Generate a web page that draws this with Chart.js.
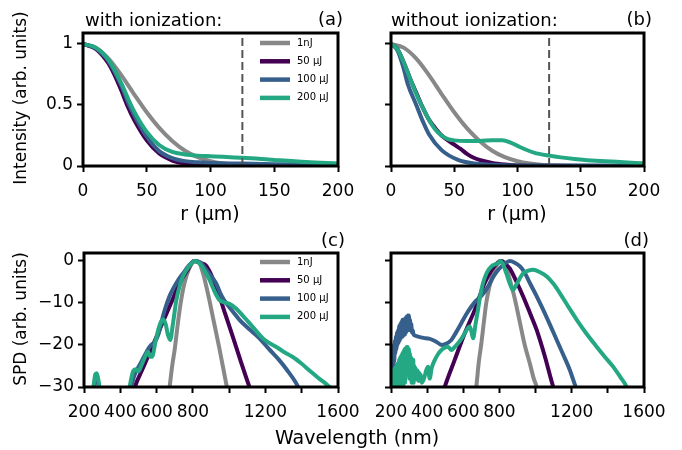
<!DOCTYPE html>
<html>
<head>
<meta charset="utf-8">
<script src="https://cdn.jsdelivr.net/npm/chart.js@4.4.0/dist/chart.umd.min.js"></script>
<style>
  body { margin: 0; background: #fff; }
  #wrap { position: relative; width: 682px; height: 450px; }
  canvas { position: absolute; left: 0; top: 0; }
</style>
</head>
<body>
<div id="wrap">
  <canvas id="pa" width="682" height="450"></canvas>
  <canvas id="pb" width="682" height="450"></canvas>
  <canvas id="pc" width="682" height="450"></canvas>
  <canvas id="pd" width="682" height="450"></canvas>
</div>
<script>
// series names + colours
const labels = ["1nJ", "50 µJ", "100 µJ", "200 µJ"];
const colors = ["#888888", "#440154", "#365f8c", "#23a883"];

// tick values
const rTicks = [0, 50, 100, 150, 200];
const iTicks = [0, 0.5, 1];
const wlTicks = [200, 400, 600, 800, 1000, 1200, 1400, 1600];
const wlShown = [200, 400, 600, 800, 1200, 1600];
const spdTicks = [0, -10, -20, -30];
const apertureR = 125;

// (a) with ionization: [r (µm), intensity]
const aGray = [[0,1],[10,0.97],[20,0.88],[30,0.745],[40,0.59],[50,0.44],[60,0.31],[70,0.205],[80,0.125],[90,0.072],[100,0.039],[110,0.02],[120,0.009],[130,0.004],[145,0.001],[170,0],[200,0]];
const aP50 = [[0,1],[10,0.96],[20,0.84],[25,0.74],[30,0.62],[35,0.49],[40,0.38],[50,0.21],[60,0.1],[70,0.045],[80,0.02],[90,0.008],[100,0.003],[120,0.001],[200,0]];
const aB100 = [[0,1],[10,0.965],[20,0.86],[30,0.66],[35,0.53],[40,0.42],[50,0.24],[60,0.12],[70,0.065],[80,0.04],[90,0.03],[100,0.025],[125,0.02],[150,0.015],[200,0.01]];
const aG200 = [[0,1],[10,0.97],[20,0.87],[30,0.68],[35,0.56],[40,0.45],[50,0.28],[60,0.17],[70,0.115],[80,0.095],[90,0.085],[100,0.08],[110,0.075],[125,0.068],[140,0.058],[150,0.05],[175,0.032],[200,0.02]];

// (b) without ionization
const bGray = aGray;
const bP50 = [[0,1],[5,0.96],[10,0.85],[15,0.72],[20,0.6],[25,0.48],[30,0.38],[35,0.31],[40,0.25],[45,0.21],[50,0.175],[55,0.14],[60,0.1],[65,0.07],[70,0.05],[80,0.025],[90,0.012],[100,0.005],[120,0.002],[200,0]];
const bB100 = [[0,1],[5,0.95],[10,0.8],[13,0.68],[20,0.5],[25,0.37],[30,0.26],[40,0.13],[53,0.05],[66,0.02],[80,0.01],[100,0.005],[200,0.003]];
const bG200 = [[0,1],[5,0.96],[10,0.85],[15,0.72],[20,0.59],[25,0.48],[30,0.38],[35,0.3],[40,0.25],[45,0.22],[50,0.21],[60,0.205],[70,0.205],[80,0.212],[88,0.212],[95,0.19],[100,0.165],[113,0.11],[125,0.085],[145,0.058],[170,0.038],[200,0.022]];

// (c) spectra with ionization: [wavelength (nm), SPD]
const cGray = [[655,-36],[672,-30],[686,-25],[700,-21],[714,-16],[727,-11.7],[745,-7],[764,-3.7],[785,-1.3],[815,0],[837,-0.5],[855,-2.8],[874,-6],[892,-9.5],[910,-13.3],[928,-17],[947,-21],[965,-25],[983,-29],[990,-30.5],[1005,-34]];
const cP50 = [[460,-33],[480,-30],[530,-25],[580,-20],[630,-15],[680,-10],[727,-5.3],[770,-2.2],[805,0],[840,-0.5],[870,-1],[892,-2.5],[920,-5.3],[947,-8.5],[980,-12.8],[1020,-18],[1065,-24],[1112,-30],[1130,-32]];
const cB100 = [[245,-33],[258,-29],[265,-27.5],[272,-27.8],[280,-29.5],[292,-33],[330,-40],[420,-40],[450,-32],[460,-30],[480,-27],[510,-24.5],[540,-22],[560,-20.5],[575,-19.8],[590,-19.3],[610,-17.5],[630,-14],[650,-11],[670,-8.5],[690,-6.7],[720,-4.5],[745,-3],[780,-1],[810,0],[840,-0.3],[880,-2.5],[928,-5.3],[955,-8],[983,-10],[1020,-12],[1057,-14],[1110,-16.2],[1167,-18.4],[1220,-21],[1276,-23.6],[1320,-26],[1368,-29],[1385,-30.5],[1400,-32]];
const cG200 = [[245,-32],[255,-29],[262,-27],[270,-26.7],[278,-28],[285,-30],[292,-33],[330,-40],[420,-40],[445,-32],[458,-28.5],[471,-26.2],[485,-25.8],[500,-26.3],[515,-25],[530,-23.5],[553,-21.6],[565,-22.8],[575,-22.8],[595,-19],[615,-15.5],[635,-13.9],[650,-15],[662,-17.5],[675,-18.8],[690,-15],[709,-9.3],[727,-6],[745,-3.7],[780,-1.2],[810,0],[835,-0.5],[860,-2],[892,-4.5],[920,-7.3],[947,-9.3],[975,-9.9],[1002,-10.2],[1038,-11.3],[1075,-13],[1112,-14.8],[1150,-16.7],[1185,-18.4],[1220,-19.5],[1258,-20.4],[1300,-21.6],[1349,-22.8],[1395,-24.3],[1441,-26],[1490,-27.8],[1532,-29.2],[1560,-30.3],[1600,-32]];

// (d) spectra without ionization
const dGray = [[660,-34],[672,-30],[686,-24],[700,-19.6],[714,-14.5],[727,-10],[745,-6],[764,-3],[785,-1],[810,0],[835,-1],[858,-4.5],[885,-9],[914,-14.8],[940,-20],[969,-24.5],[990,-28],[1006,-30],[1015,-32]];
const dP50 = [[470,-34],[497,-30],[552,-23.6],[608,-17.2],[663,-11.7],[718,-5.3],[773,-1.2],[808,0],[840,-1],[858,-1.8],[895,-5],[932,-8.5],[970,-12.5],[1006,-16.4],[1050,-22.5],[1098,-30],[1115,-32]];
const dB100 = [[200,-28],[203,-22],[206,-27],[209,-21],[212,-25],[215,-20],[218,-24],[221,-19],[224,-22],[227,-18],[230,-21],[233,-17],[236,-20],[239,-16.5],[242,-19.5],[245,-15.5],[248,-19],[251,-15],[254,-18.5],[257,-14.5],[260,-18],[263,-14],[266,-18],[269,-14.5],[272,-17.5],[275,-13.8],[278,-17.5],[281,-13.5],[284,-17],[287,-13.2],[290,-16.5],[293,-13],[296,-16.5],[299,-13],[302,-16],[305,-14],[308,-16.5],[312,-15],[316,-17],[320,-16.5],[325,-17.5],[335,-17.8],[350,-18],[380,-18.3],[410,-18.5],[440,-19],[460,-19.5],[480,-20],[500,-19.8],[534,-18.8],[560,-17],[589,-14.8],[615,-12.8],[644,-10.9],[670,-9.5],[700,-8.3],[737,-6.1],[770,-3.5],[800,-1.8],[830,-0.6],[857,0],[885,-0.4],[914,-1.3],[940,-2.8],[969,-5.3],[1005,-8.3],[1043,-11.7],[1080,-15.2],[1117,-18.8],[1155,-22.5],[1190,-26],[1222,-30],[1240,-32]];
const dG200 = [[200,-33],[203,-27],[206,-33],[209,-26],[212,-32],[215,-27.5],[218,-33],[221,-25.5],[224,-31],[227,-26],[230,-33],[233,-24.5],[236,-30],[239,-25],[242,-32],[245,-23.5],[248,-29],[251,-23],[254,-31],[257,-22.5],[260,-28],[263,-22],[266,-30],[269,-21.5],[272,-27],[275,-21],[278,-29],[281,-20.8],[284,-26],[287,-20.5],[290,-27],[293,-20.5],[296,-25],[299,-21],[302,-28],[305,-22],[308,-26],[311,-23],[314,-29],[317,-24],[320,-27],[323,-23.5],[326,-29],[329,-25],[332,-27.5],[335,-25.5],[340,-28],[345,-26],[350,-28.5],[355,-26.5],[360,-28.5],[365,-27],[370,-29],[378,-28.5],[386,-27.5],[395,-26],[405,-25.2],[414,-28],[425,-25.5],[442,-23.6],[460,-22.2],[479,-21.2],[500,-20.6],[515,-20.4],[534,-21.2],[550,-20.6],[571,-19.6],[590,-18.5],[608,-17.2],[635,-15.6],[645,-16.8],[654,-18.4],[668,-15],[681,-11.7],[695,-8],[709,-5.3],[730,-2.8],[755,-1.3],[792,-0.5],[805,0],[820,-0.8],[838,-2.9],[858,-5.5],[875,-6.9],[895,-5.5],[912,-4.2],[932,-2.9],[960,-2.3],[987,-2.1],[1025,-2.7],[1062,-3.7],[1100,-5.5],[1135,-7.7],[1180,-10.8],[1228,-14],[1280,-17.2],[1338,-20.4],[1385,-22.9],[1430,-25.2],[1470,-27.7],[1504,-30],[1520,-32]];

const FONT = "'DejaVu Sans', sans-serif";
Chart.defaults.font.family = FONT;
Chart.defaults.color = "#000";

const tickFont = { size: 17 };
const minus = v => String(v).replace("-", "\u2212");

function pts(arr) {
  return arr.map(p => ({ x: p[0], y: p[1] }));
}

function series(list, extra) {
  const sets = list.map((d, i) => ({
    label: labels[i],
    data: pts(d),
    borderColor: colors[i],
    backgroundColor: colors[i],
    borderWidth: 4,
    pointRadius: 0,
    fill: false,
    cubicInterpolationMode: "monotone",
    order: 3 - i
  }));
  if (extra) sets.push(extra);
  return sets;
}

function dashLine(ymax) {
  return {
    label: "aperture",
    data: [{ x: apertureR, y: 0 }, { x: apertureR, y: ymax }],
    borderColor: "#555555",
    borderWidth: 2,
    borderDash: [8, 4],
    pointRadius: 0,
    order: -1
  };
}

// box around the plot area
const frame = {
  id: "frame",
  afterDatasetsDraw(chart) {
    const { ctx, chartArea: a } = chart;
    ctx.save();
    ctx.lineWidth = 3;
    ctx.strokeStyle = "#000";
    ctx.strokeRect(a.left, a.top, a.right - a.left, a.bottom - a.top);
    ctx.restore();
  }
};

function textPlugin(items) {
  return {
    id: "texts",
    afterDraw(chart) {
      const ctx = chart.ctx;
      items.forEach(t => {
        ctx.save();
        ctx.font = (t.size || 18) + "px " + FONT;
        ctx.fillStyle = "#000";
        ctx.textAlign = t.align || "center";
        ctx.textBaseline = "middle";
        ctx.translate(t.x, t.y);
        if (t.rot) ctx.rotate(-Math.PI / 2);
        ctx.fillText(t.text, 0, 0);
        ctx.restore();
      });
    }
  };
}

function legendPlugin(x0, y0) {
  return {
    id: "legendBox",
    afterDatasetsDraw(chart) {
      const ctx = chart.ctx;
      ctx.save();
      labels.forEach((lab, i) => {
        const y = y0 + i * 18.3;
        ctx.strokeStyle = colors[i];
        ctx.lineWidth = 4.5;
        ctx.beginPath();
        ctx.moveTo(x0, y);
        ctx.lineTo(x0 + 30, y);
        ctx.stroke();
        ctx.fillStyle = "#000";
        ctx.font = "10px " + FONT;
        ctx.textBaseline = "middle";
        ctx.fillText(lab, x0 + 37, y);
      });
      ctx.restore();
    }
  };
}

function makeChart(id, box, datasets, xr, yr, xTicks, yTicks, xLab, yLab, plugins) {
  const W = 682, H = 450;
  return new Chart(document.getElementById(id), {
    type: "line",
    data: { datasets },
    options: {
      responsive: false,
      animation: false,
      devicePixelRatio: 1,
      layout: { padding: { left: 0, top: box.top, right: W - box.right, bottom: 0 } },
      plugins: { legend: { display: false }, tooltip: { enabled: false } },
      scales: {
        x: {
          type: "linear",
          min: xr[0],
          max: xr[1],
          afterBuildTicks: s => { s.ticks = xTicks.map(v => ({ value: v })); },
          afterFit: s => {
            s.height = H - box.bottom;
            s.paddingLeft = 0; s.paddingRight = 0;
          },
          ticks: { font: tickFont, padding: 9, autoSkip: false, maxRotation: 0, minRotation: 0, callback: xLab },
          grid: { drawOnChartArea: false, drawTicks: true, tickLength: 6, tickWidth: 2, tickColor: "#000" },
          border: { display: false }
        },
        y: {
          type: "linear",
          min: yr[0],
          max: yr[1],
          afterBuildTicks: s => { s.ticks = yTicks.map(v => ({ value: v })); },
          afterFit: s => {
            s.width = box.left;
            s.paddingTop = 0; s.paddingBottom = 0;
          },
          ticks: { font: tickFont, padding: 4, callback: yLab },
          grid: { drawOnChartArea: false, drawTicks: true, tickLength: 6, tickWidth: 2, tickColor: "#000" },
          border: { display: false }
        }
      }
    },
    plugins: [frame].concat(plugins)
  });
}

const rLab = v => String(v);
const wlLab = v => (wlShown.includes(v) ? String(v) : "");
const none = () => "";

makeChart("pa", { left: 83, right: 338, top: 33, bottom: 166 },
  series([aGray, aP50, aB100, aG200], dashLine(1.2)),
  [0, 200], [0, 1.09], rTicks, iTicks, rLab, v => String(v),
  [legendPlugin(260, 43), textPlugin([
    { text: "with ionization:", x: 85, y: 21, align: "left" },
    { text: "(a)", x: 343, y: 20, align: "right" },
    { text: "Intensity (arb. units)", x: 22, y: 98, rot: true, size: 17 },
    { text: "r (µm)", x: 210, y: 215, size: 19 }
  ])]);

makeChart("pb", { left: 391, right: 644, top: 33, bottom: 166 },
  series([bGray, bP50, bB100, bG200], dashLine(1.2)),
  [0, 200], [0, 1.09], rTicks, iTicks, rLab, none,
  [textPlugin([
    { text: "without ionization:", x: 391, y: 21, align: "left" },
    { text: "(b)", x: 652, y: 20, align: "right" },
    { text: "r (µm)", x: 517, y: 215, size: 19 }
  ])]);

makeChart("pc", { left: 84, right: 338, top: 253, bottom: 387 },
  series([cGray, cP50, cB100, cG200]),
  [200, 1600], [-30, 1.9], wlTicks, spdTicks, wlLab, minus,
  [legendPlugin(260, 262), textPlugin([
    { text: "(c)", x: 345, y: 241, align: "right" },
    { text: "SPD (arb. units)", x: 22, y: 319, rot: true, size: 17 },
    { text: "Wavelength (nm)", x: 357, y: 439, size: 19 }
  ])]);

makeChart("pd", { left: 391, right: 644, top: 253, bottom: 387 },
  series([dGray, dP50, dB100, dG200]),
  [200, 1600], [-30, 1.9], wlTicks, spdTicks, wlLab, none,
  [textPlugin([
    { text: "(d)", x: 649, y: 241, align: "right" }
  ])]);
</script>
</body>
</html>
